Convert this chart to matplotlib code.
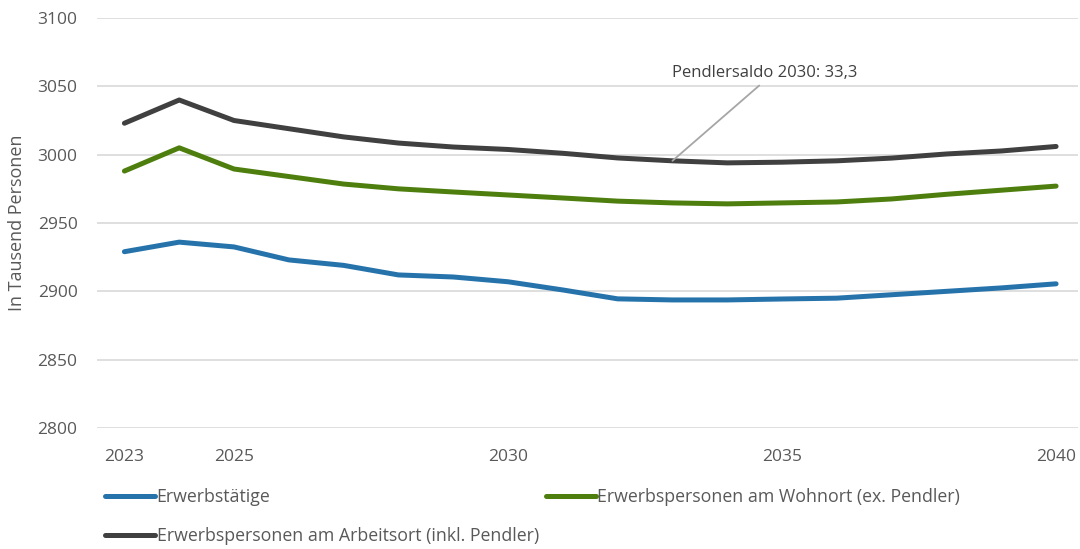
import matplotlib.pyplot as plt

plt.rcParams['font.family'] = ['Open Sans', 'DejaVu Sans']

years = list(range(2023, 2041))

erwerbstaetige = [2929, 2936, 2932.5, 2923, 2919, 2912, 2910.5, 2907, 2901, 2894.5,
                  2893.7, 2893.7, 2894.4, 2895, 2897.5, 2900, 2902.5, 2905.5]
wohnort = [2988, 3005, 2989.5, 2984, 2978.5, 2975, 2972.7, 2970.5, 2968.3, 2966,
           2964.7, 2964, 2964.7, 2965.4, 2967.6, 2971, 2974, 2977]
arbeitsort = [3023, 3040, 3025, 3019, 3013, 3008.5, 3005.6, 3003.8, 3001, 2997.6,
              2995.5, 2994, 2994.5, 2995.5, 2997.5, 3000.5, 3002.7, 3006]

labels = ["Erwerbstätige",
          "Erwerbspersonen am Wohnort (ex. Pendler)",
          "Erwerbspersonen am Arbeitsort (inkl. Pendler)"]
xticks = [2023, 2025, 2030, 2035, 2040]
yticks = [2800, 2850, 2900, 2950, 3000, 3050, 3100]
note = "Pendlersaldo 2030: 33,3"
note_year = 2033

BLUE = '#2673AC'
GREEN = '#4E7F0E'
DARK = '#404040'
TXT = '#595959'

fig = plt.figure(figsize=(10.8, 5.49), dpi=100)
ax = fig.add_axes([97 / 1080, 1 - 428 / 549, 981 / 1080, 410 / 549])

l1, = ax.plot(years, erwerbstaetige, color=BLUE, lw=3.6, solid_capstyle='round', label=labels[0])
l2, = ax.plot(years, wohnort, color=GREEN, lw=3.6, solid_capstyle='round', label=labels[1])
l3, = ax.plot(years, arbeitsort, color=DARK, lw=3.6, solid_capstyle='round', label=labels[2])

ax.set_xlim(2022.5, 2040.4)
ax.set_ylim(2800, 3100)
ax.set_xticks(xticks)
ax.set_yticks(yticks)
ax.tick_params(length=0, labelsize=12.5, labelcolor=TXT)
ax.tick_params(axis='y', pad=14)
ax.tick_params(axis='x', pad=15)
ax.grid(axis='y', color='#D9D9D9', lw=1.2)
ax.set_axisbelow(True)
for s in ax.spines.values():
    s.set_visible(False)

ax.set_ylabel('In Tausend Personen', fontsize=13, color=TXT, labelpad=8)

i = years.index(note_year)
ax.annotate(note, xy=(note_year, arbeitsort[i]), xytext=(2034.68, 3059.8),
            ha='center', va='center', fontsize=12, color=DARK,
            arrowprops=dict(arrowstyle='-', color='#A6A6A6', lw=1.3,
                            relpos=(0.5, 0), shrinkA=2, shrinkB=0))

fig.legend(handles=[l1, l3, l2], labels=[labels[0], labels[2], labels[1]],
           loc='upper left', bbox_to_anchor=(105 / 1080, 1 - 488 / 549),
           ncol=2, frameon=False, fontsize=12.8, labelcolor=TXT,
           handlelength=2.8, handletextpad=0.1, columnspacing=0.4,
           labelspacing=1.2, borderaxespad=0, borderpad=0)

fig.savefig('out.png', dpi=100)
